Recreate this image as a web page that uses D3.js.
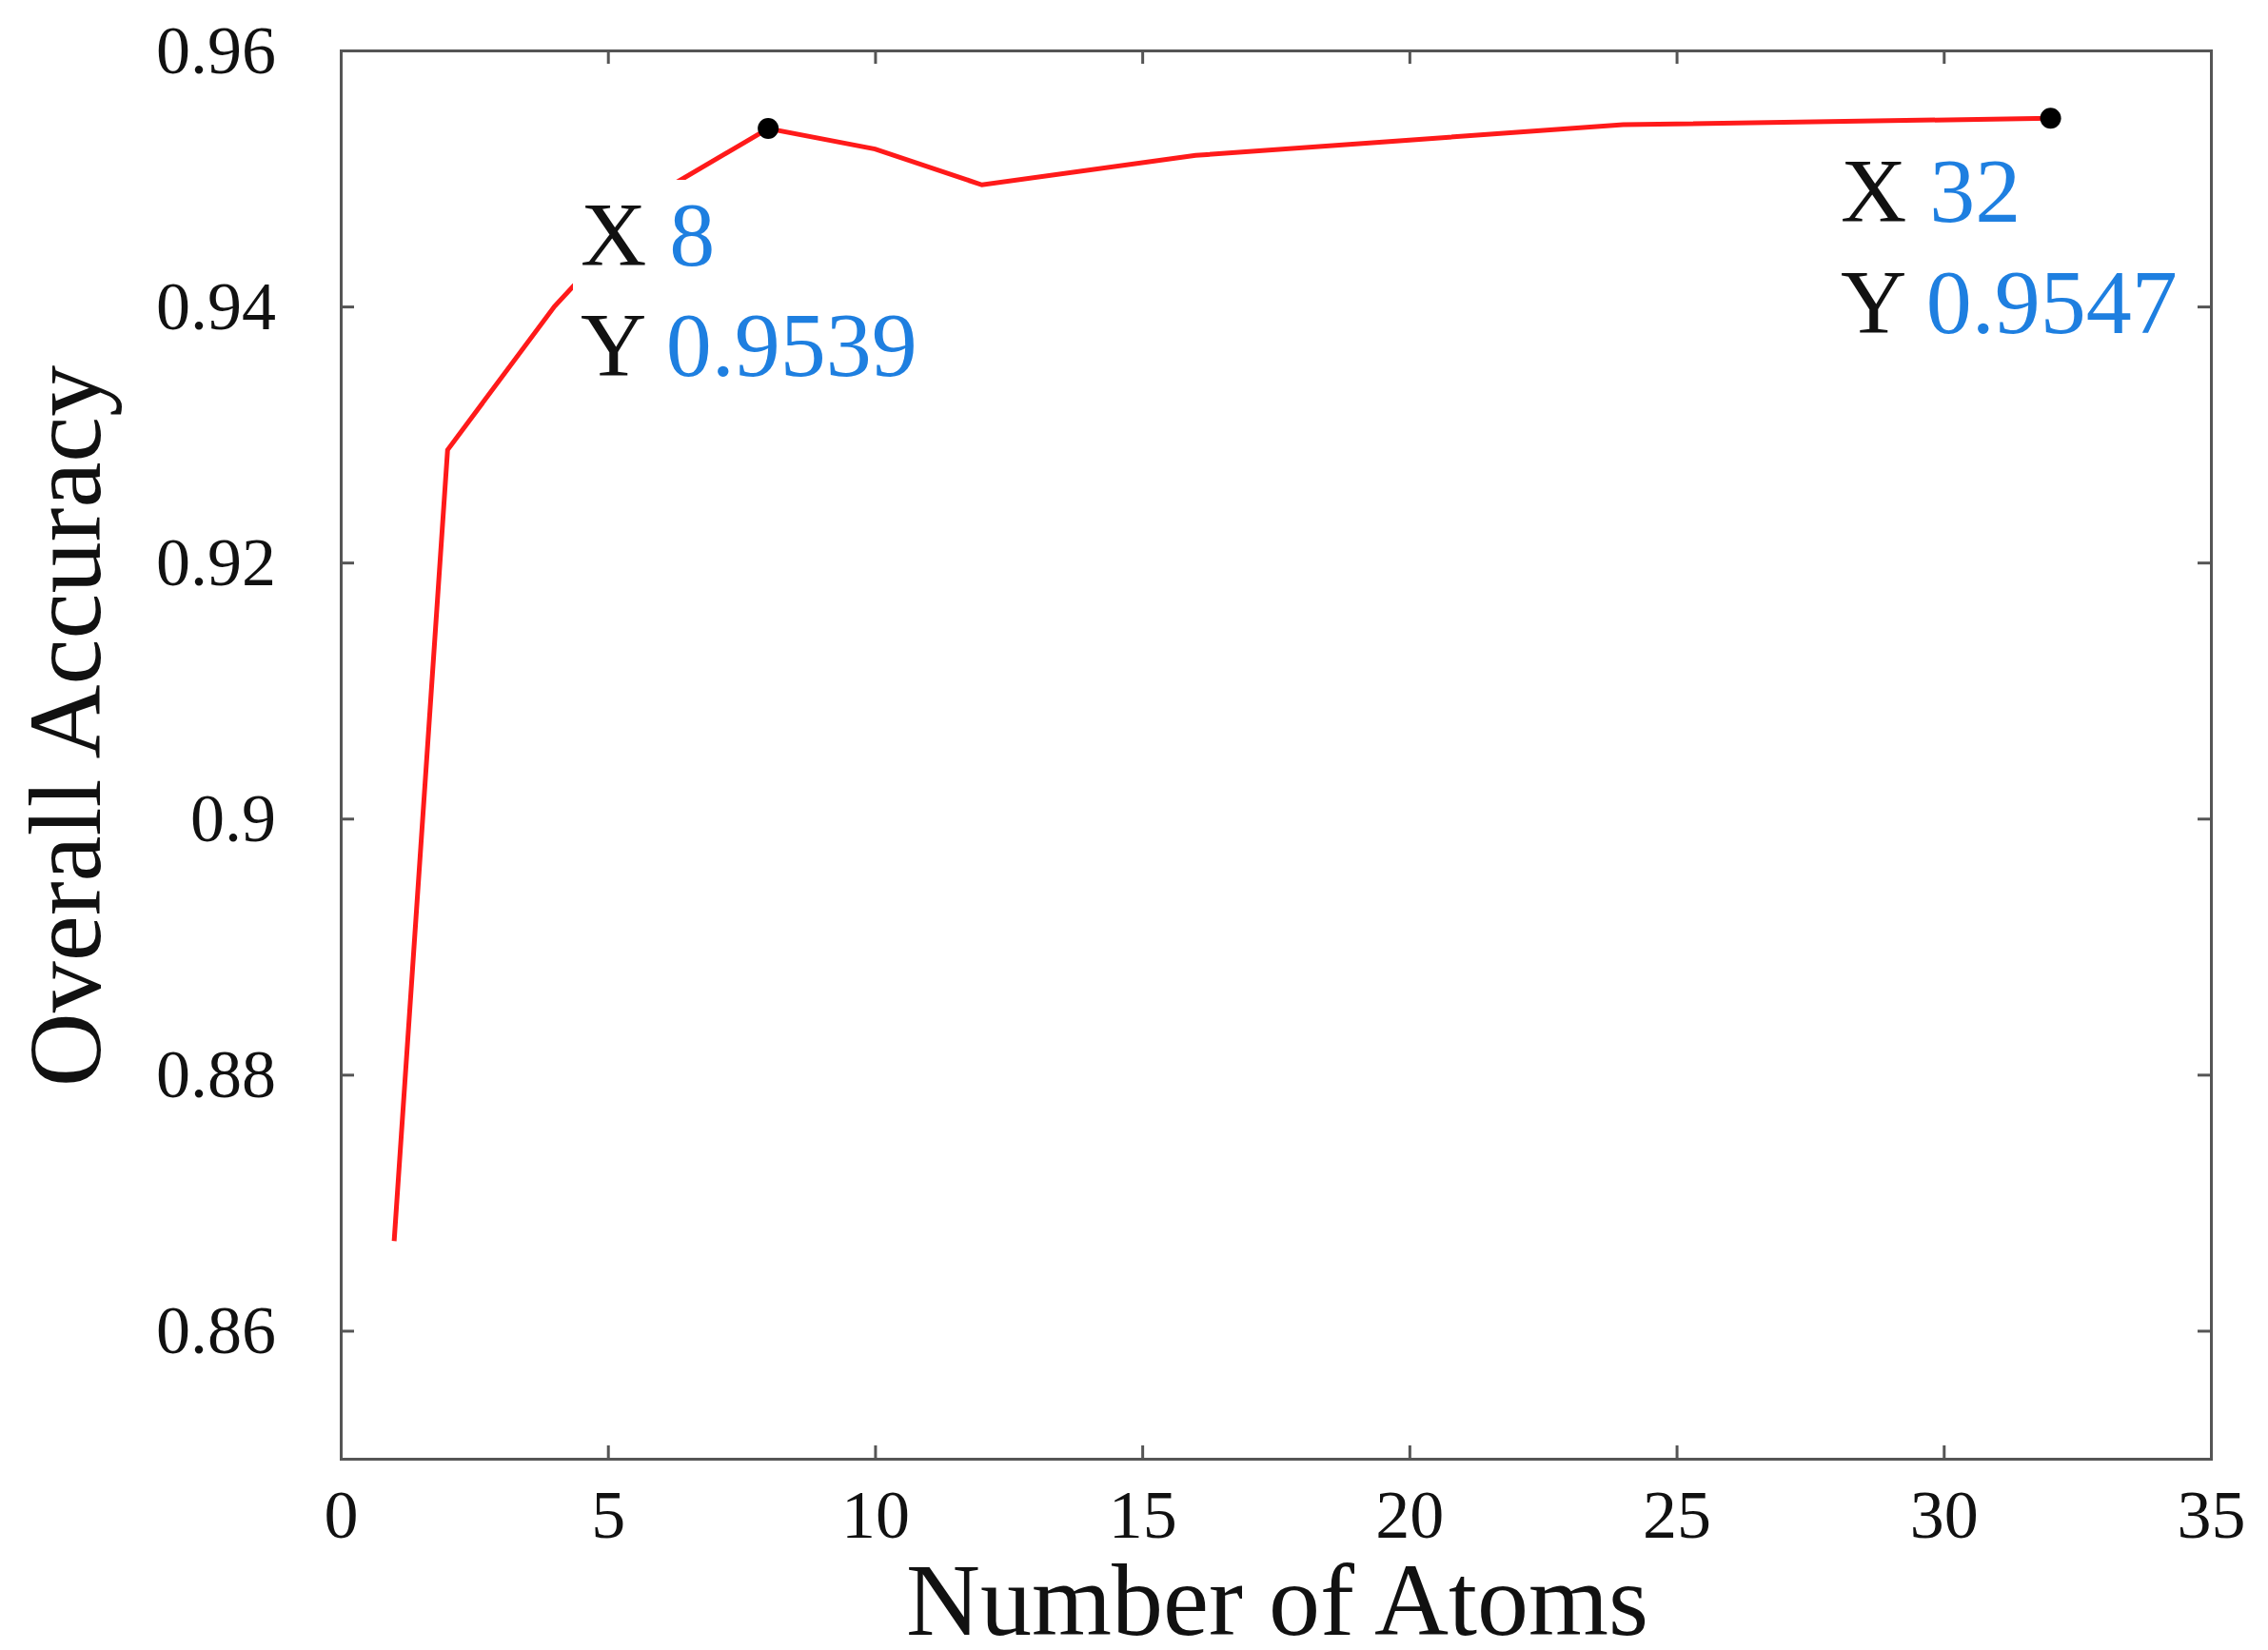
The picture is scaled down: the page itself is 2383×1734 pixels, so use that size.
<!DOCTYPE html>
<html><head><meta charset="utf-8">
<script src="https://cdn.jsdelivr.net/npm/d3@7"></script>
<style>body{margin:0;background:#fff}text{font-family:"Liberation Serif","Times New Roman",serif}</style>
</head><body>
<svg id="c" width="2383" height="1734"></svg>
<script>
const atoms = [1, 2, 4, 6, 8, 10, 12, 16, 20, 24, 32];
const accuracy = [0.867, 0.9288, 0.940, 0.949, 0.9539, 0.9523, 0.9495, 0.9518, 0.953, 0.9542, 0.9547];
const xTicks = [0, 5, 10, 15, 20, 25, 30, 35];
const yTicks = [0.86, 0.88, 0.90, 0.92, 0.94, 0.96];
const yTickLabels = ["0.86", "0.88", "0.9", "0.92", "0.94", "0.96"];
const tips = [{x: 8, y: 0.9539, xs: "8", ys: "0.9539"}, {x: 32, y: 0.9547, xs: "32", ys: "0.9547"}];

const L = 358, R = 2323, T = 53, B = 1533;
const svg = d3.select("#c");
const x = d3.scaleLinear().domain([0, 35]).range([L, R]);
const y = d3.scaleLinear().domain([0.85, 0.96]).range([B, T]);

const axCol = "#555";
const g1 = svg.append("g").attr("transform", `translate(0,${B})`)
  .call(d3.axisBottom(x).tickValues(xTicks).tickSize(-14).tickPadding(32));
const g2 = svg.append("g").attr("transform", `translate(${L},0)`)
  .call(d3.axisLeft(y).tickValues(yTicks).tickFormat((d,i)=>yTickLabels[i]).tickSize(-14).tickPadding(68));
const g3 = svg.append("g").attr("transform", `translate(${R},0)`)
  .call(d3.axisRight(y).tickValues(yTicks).tickFormat("").tickSize(-14));
const g4 = svg.append("g").attr("transform", `translate(0,${T})`)
  .call(d3.axisTop(x).tickValues(xTicks).tickFormat("").tickSize(-14));
[g1,g2,g3,g4].forEach(g=>{
  g.selectAll("path,line").attr("stroke", axCol).attr("stroke-width", 3);
  g.selectAll("text").attr("font-size", 72).attr("fill", "#111").style("font-family", '"Liberation Serif",serif');
});
g1.selectAll("text").attr("dy", "0.71em");

svg.append("path").datum(atoms.map((a,i)=>[a, accuracy[i]]))
  .attr("d", d3.line().x(d=>x(d[0])).y(d=>y(d[1])))
  .attr("fill", "none").attr("stroke", "#ff1a1a").attr("stroke-width", 5);

svg.selectAll("circle.tip").data(tips).join("circle")
  .attr("cx", d=>x(d.x)).attr("cy", d=>y(d.y)).attr("r", 11).attr("fill", "#000");

const boxes = [{lx: 610, b1: 279, b2: 395}, {lx: 1934, b1: 233, b2: 350}];
tips.forEach((t,i)=>{
  const b = boxes[i];
  const g = svg.append("g");
  const txt = g.append("g");
  const t1 = txt.append("text").attr("x", b.lx).attr("y", b.b1).attr("font-size", 96);
  t1.append("tspan").attr("fill", "#111").text("X ");
  t1.append("tspan").attr("fill", "#1e7fe0").text(t.xs);
  const t2 = txt.append("text").attr("x", b.lx).attr("y", b.b2).attr("font-size", 96);
  t2.append("tspan").attr("fill", "#111").text("Y ");
  t2.append("tspan").attr("fill", "#1e7fe0").text(t.ys);
  const bb = txt.node().getBBox();
  g.insert("rect", ":first-child").attr("x", bb.x - 8).attr("y", bb.y - 4)
    .attr("width", bb.width + 16).attr("height", bb.height + 8).attr("fill", "#fff");
});

svg.append("text").attr("x", 1342).attr("y", 1718).attr("text-anchor", "middle")
  .attr("font-size", 108).attr("fill", "#111").text("Number of Atoms");
svg.append("text").attr("transform", `translate(105,${(T+B)/2 - 30}) rotate(-90)`)
  .attr("text-anchor", "middle").attr("font-size", 108).attr("fill", "#111").text("Overall Accuracy");
</script>
</body></html>
